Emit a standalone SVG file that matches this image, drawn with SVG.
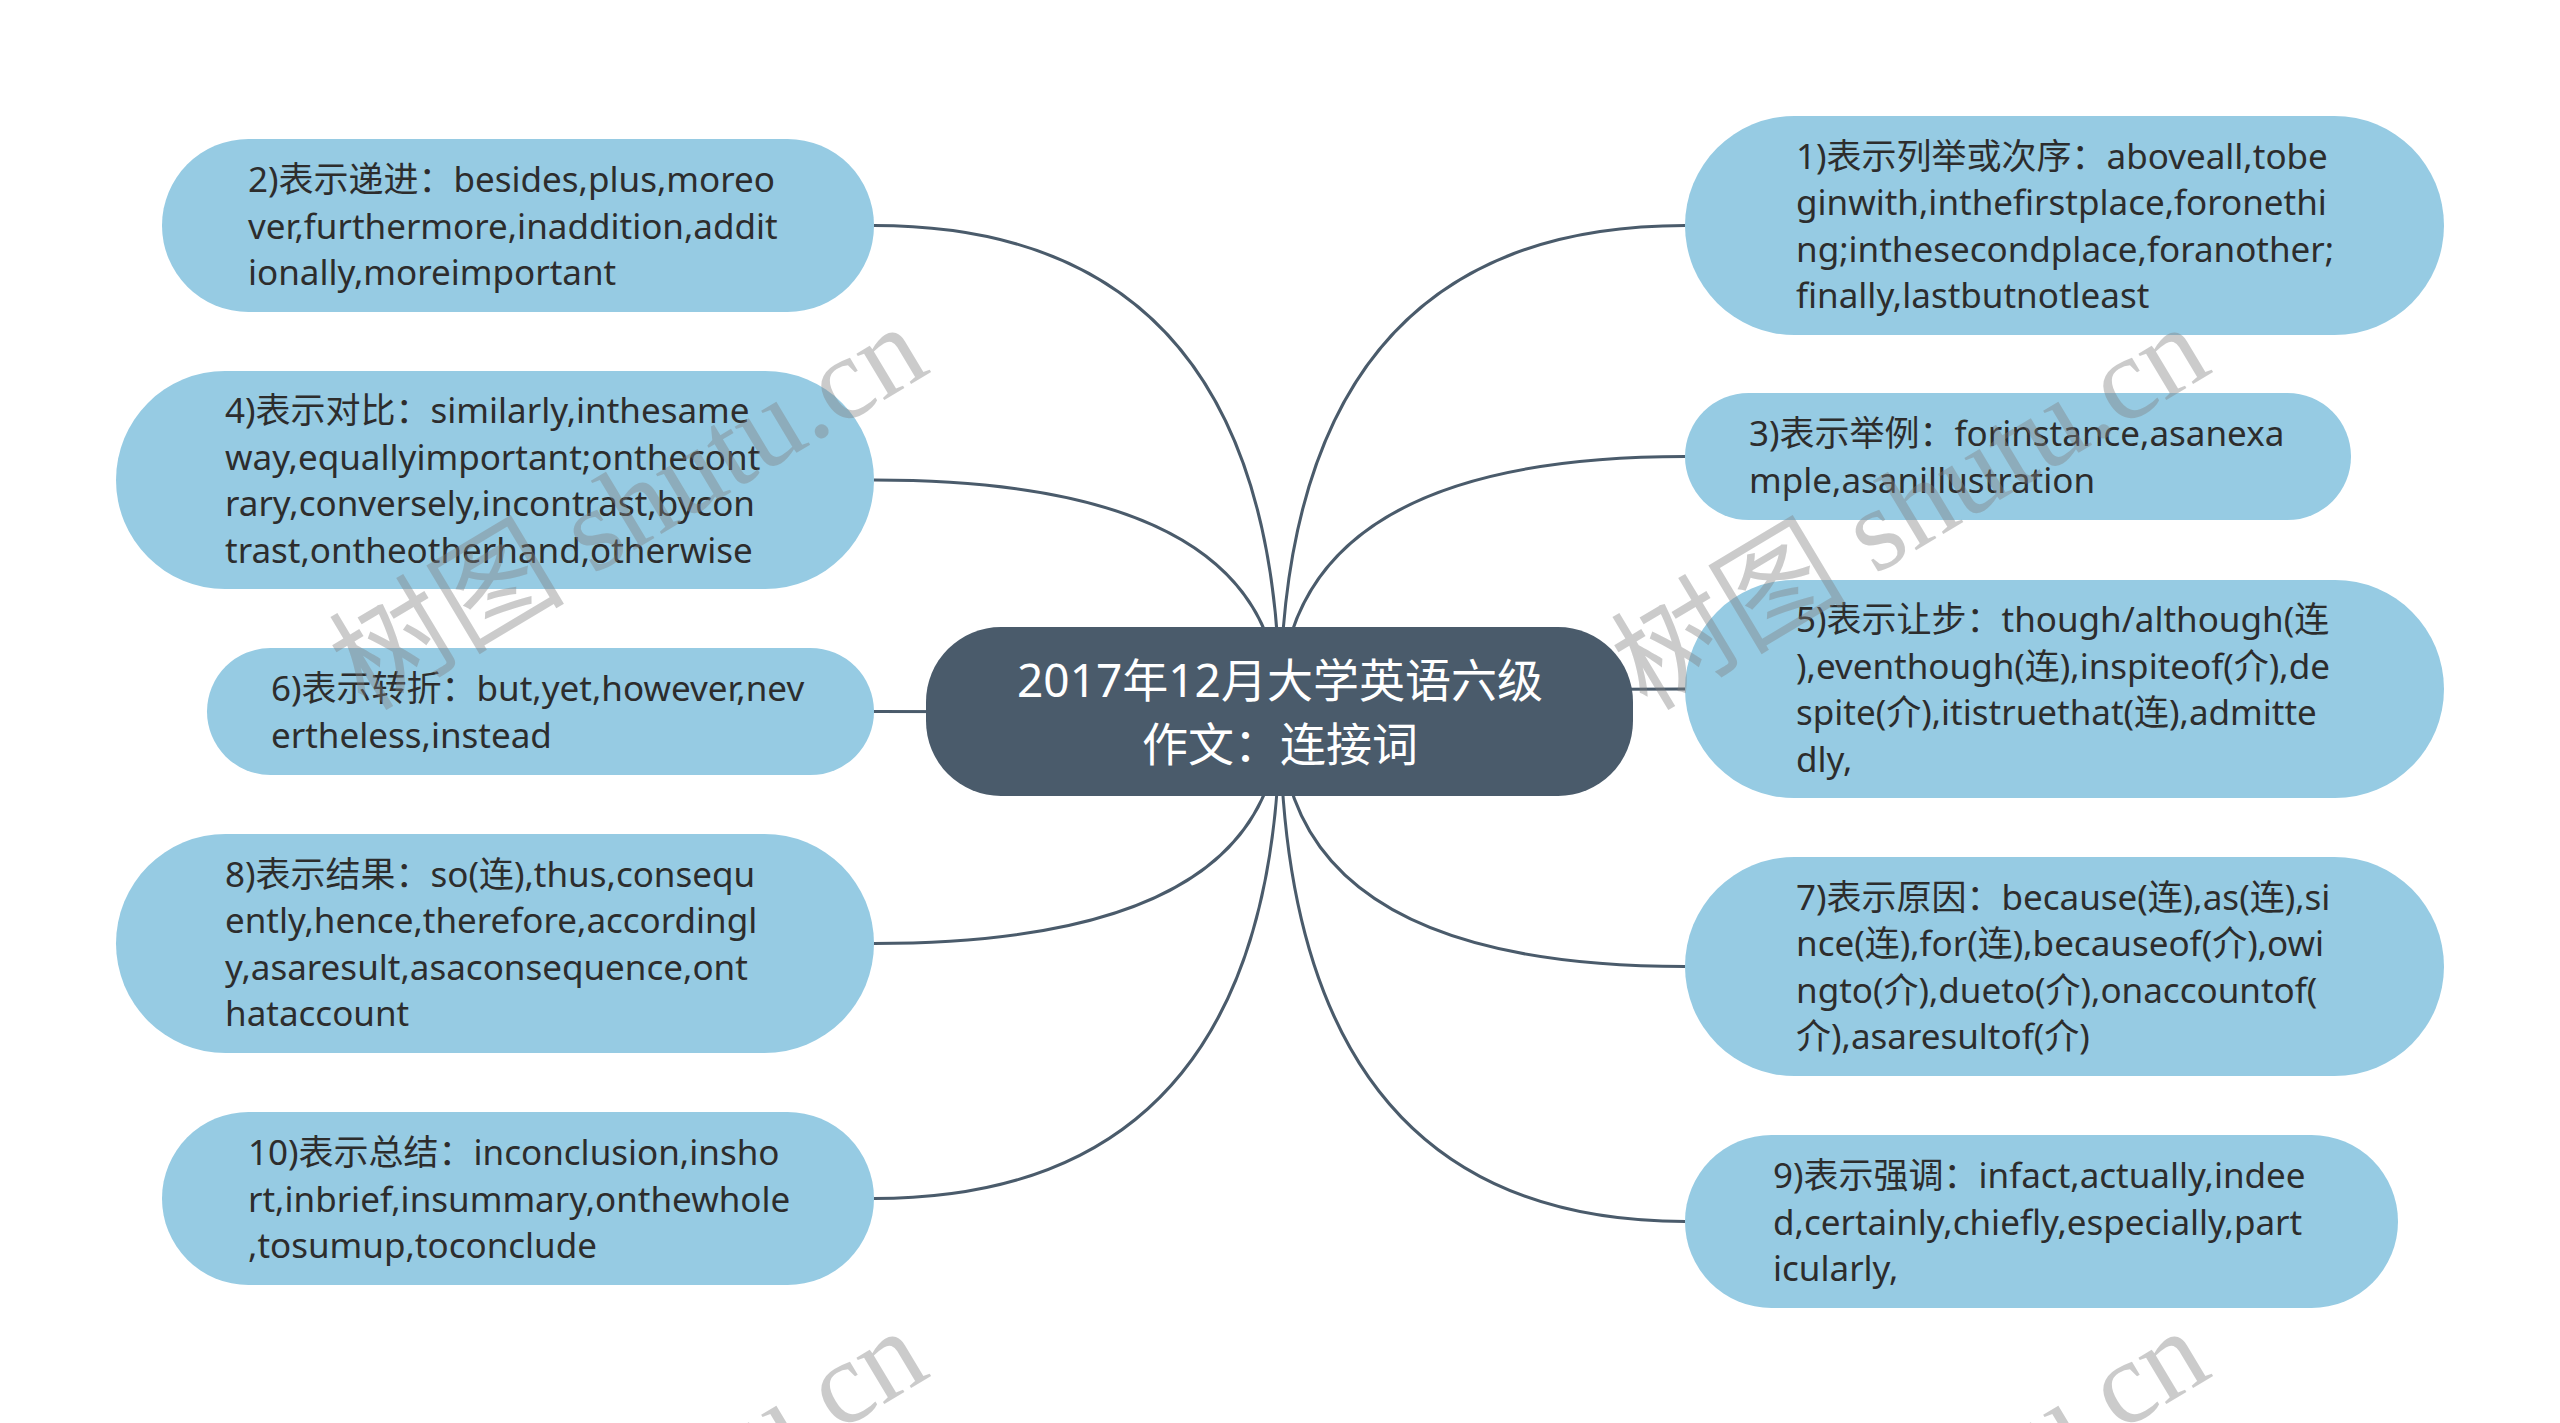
<svg xmlns="http://www.w3.org/2000/svg" width="2560" height="1423" viewBox="0 0 2560 1423">
<style>
.bg{fill:#ffffff}
.conn{fill:none;stroke:#4a5b6b;stroke-width:3}
.leaf{fill:#96cbe3}
.root{fill:#4a5b6b}
.lt{font-family:"Noto Sans","Noto Sans CJK SC",sans-serif;font-size:35px;fill:#2d2d2d;dominant-baseline:central}
.rt{font-family:"Noto Sans","Noto Sans CJK SC",sans-serif;font-size:46px;fill:#ffffff;dominant-baseline:central;text-anchor:middle}
.wm{font-family:"Liberation Serif","Noto Sans CJK SC",serif;font-size:118px;fill:#808080;opacity:0.4}
</style>
<rect class="bg" x="0" y="0" width="2560" height="1423"/>
<g id="connectors">
<path class="conn" d="M1280 712 Q1280 225.5 874 225.5"/>
<path class="conn" d="M1280 712 Q1280 480 874 480"/>
<path class="conn" d="M1280 712 Q1280 711.5 874 711.5"/>
<path class="conn" d="M1280 712 Q1280 943.5 874 943.5"/>
<path class="conn" d="M1280 712 Q1280 1198.5 874 1198.5"/>
<path class="conn" d="M1280 712 Q1280 225.5 1685 225.5"/>
<path class="conn" d="M1280 712 Q1280 456.5 1685 456.5"/>
<path class="conn" d="M1280 712 Q1280 689 1685 689"/>
<path class="conn" d="M1280 712 Q1280 966.5 1685 966.5"/>
<path class="conn" d="M1280 712 Q1280 1221.5 1685 1221.5"/>
</g>
<g id="node-root">
<rect class="root" x="926" y="627" width="707" height="169" rx="75" ry="75"/>
<text class="rt"><tspan x="1280" y="679">2017年12月大学英语六级</tspan><tspan x="1280" y="743">作文：连接词</tspan></text>
</g>
<g id="node-2">
<rect class="leaf" x="162" y="139" width="712" height="173" rx="86.5" ry="86.5"/>
<text class="lt"><tspan x="248" y="178">2)表示递进：besides,plus,moreo</tspan><tspan x="248" y="224.5">ver,furthermore,inaddition,addit</tspan><tspan x="248" y="271">ionally,moreimportant</tspan></text>
</g>
<g id="node-4">
<rect class="leaf" x="116" y="371" width="758" height="218" rx="109" ry="109"/>
<text class="lt"><tspan x="225" y="409.25">4)表示对比：similarly,inthesame</tspan><tspan x="225" y="455.75">way,equallyimportant;onthecont</tspan><tspan x="225" y="502.25">rary,conversely,incontrast,bycon</tspan><tspan x="225" y="548.75">trast,ontheotherhand,otherwise</tspan></text>
</g>
<g id="node-6">
<rect class="leaf" x="207" y="648" width="667" height="127" rx="63.5" ry="63.5"/>
<text class="lt"><tspan x="271" y="687.25">6)表示转折：but,yet,however,nev</tspan><tspan x="271" y="733.75">ertheless,instead</tspan></text>
</g>
<g id="node-8">
<rect class="leaf" x="116" y="834" width="758" height="219" rx="109.5" ry="109.5"/>
<text class="lt"><tspan x="225" y="872.75">8)表示结果：so(连),thus,consequ</tspan><tspan x="225" y="919.25">ently,hence,therefore,accordingl</tspan><tspan x="225" y="965.75">y,asaresult,asaconsequence,ont</tspan><tspan x="225" y="1012.25">hataccount</tspan></text>
</g>
<g id="node-10">
<rect class="leaf" x="162" y="1112" width="712" height="173" rx="86.5" ry="86.5"/>
<text class="lt"><tspan x="248" y="1151">10)表示总结：inconclusion,insho</tspan><tspan x="248" y="1197.5">rt,inbrief,insummary,onthewhole</tspan><tspan x="248" y="1244">,tosumup,toconclude</tspan></text>
</g>
<g id="node-1">
<rect class="leaf" x="1685" y="116" width="759" height="219" rx="109.5" ry="109.5"/>
<text class="lt"><tspan x="1796" y="154.75">1)表示列举或次序：aboveall,tobe</tspan><tspan x="1796" y="201.25">ginwith,inthefirstplace,foronethi</tspan><tspan x="1796" y="247.75">ng;inthesecondplace,foranother;</tspan><tspan x="1796" y="294.25">finally,lastbutnotleast</tspan></text>
</g>
<g id="node-3">
<rect class="leaf" x="1685" y="393" width="666" height="127" rx="63.5" ry="63.5"/>
<text class="lt"><tspan x="1749" y="432.25">3)表示举例：forinstance,asanexa</tspan><tspan x="1749" y="478.75">mple,asanillustration</tspan></text>
</g>
<g id="node-5">
<rect class="leaf" x="1685" y="580" width="759" height="218" rx="109" ry="109"/>
<text class="lt"><tspan x="1796" y="618.25">5)表示让步：though/although(连</tspan><tspan x="1796" y="664.75">),eventhough(连),inspiteof(介),de</tspan><tspan x="1796" y="711.25">spite(介),itistruethat(连),admitte</tspan><tspan x="1796" y="757.75">dly,</tspan></text>
</g>
<g id="node-7">
<rect class="leaf" x="1685" y="857" width="759" height="219" rx="109.5" ry="109.5"/>
<text class="lt"><tspan x="1796" y="895.75">7)表示原因：because(连),as(连),si</tspan><tspan x="1796" y="942.25">nce(连),for(连),becauseof(介),owi</tspan><tspan x="1796" y="988.75">ngto(介),dueto(介),onaccountof(</tspan><tspan x="1796" y="1035.25">介),asaresultof(介)</tspan></text>
</g>
<g id="node-9">
<rect class="leaf" x="1685" y="1135" width="713" height="173" rx="86.5" ry="86.5"/>
<text class="lt"><tspan x="1773" y="1174">9)表示强调：infact,actually,indee</tspan><tspan x="1773" y="1220.5">d,certainly,chiefly,especially,part</tspan><tspan x="1773" y="1267">icularly,</tspan></text>
</g>
<g id="watermarks">
<text class="wm" x="365" y="712" transform="rotate(-31 365 712)">树图 shutu.cn</text>
<text class="wm" x="1647" y="712" transform="rotate(-31 1647 712)">树图 shutu.cn</text>
<text class="wm" x="365" y="1716" transform="rotate(-31 365 1716)">树图 shutu.cn</text>
<text class="wm" x="1647" y="1716" transform="rotate(-31 1647 1716)">树图 shutu.cn</text>
</g>
</svg>
